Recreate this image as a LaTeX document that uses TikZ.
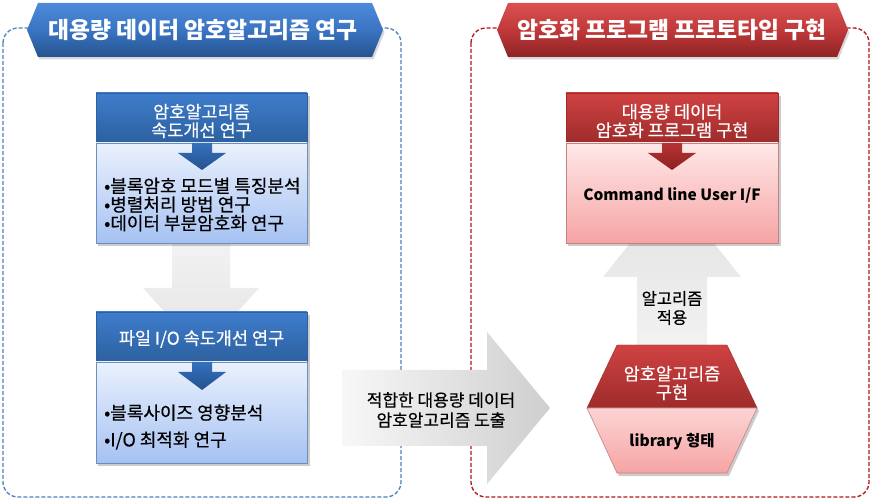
\documentclass[tikz,border=0pt]{standalone}
\usepackage{fontspec}
\setmainfont{Noto Sans CJK KR}
\newfontfamily\mg{Noto Sans CJK KR}[FakeBold=0.5]
\usetikzlibrary{shadows}
\definecolor{fblue}{HTML}{4F81BD}
\definecolor{fred}{HTML}{B01818}
\definecolor{bnb1}{HTML}{4C8BDA}
\definecolor{bnb2}{HTML}{3A74C2}
\definecolor{bnb3}{HTML}{25538F}
\definecolor{bnr1}{HTML}{D9524F}
\definecolor{bnr2}{HTML}{C0383A}
\definecolor{bnr3}{HTML}{8F2323}
\definecolor{hb1}{HTML}{3E7DCC}
\definecolor{hb2}{HTML}{2D609F}
\definecolor{lb1}{HTML}{EAF1FD}
\definecolor{lb2}{HTML}{A6C2F2}
\definecolor{hr1}{HTML}{D04242}
\definecolor{hr2}{HTML}{9E2B2B}
\definecolor{lr1}{HTML}{FFE8E8}
\definecolor{lr2}{HTML}{F6A4A4}
\definecolor{ab1}{HTML}{3570BD}
\definecolor{ab2}{HTML}{24528F}
\definecolor{ar1}{HTML}{B83232}
\definecolor{ar2}{HTML}{8C2222}
\tikzset{
  frameline/.style={line width=1.3pt, dash pattern=on 4pt off 2pt, rounded corners=15pt},
  banner/.style={drop shadow={opacity=0.3, shadow xshift=1.5pt, shadow yshift=-2.5pt}},
  hdrblue/.style={top color=hb1, bottom color=hb2, draw=hb2, line width=0.4pt, inner sep=0pt},
  bodyblue/.style={top color=lb1, bottom color=lb2, draw=hb2!70, line width=0.6pt, inner sep=0pt},
  hdrred/.style={top color=hr1, bottom color=hr2, draw=hr2, line width=0.4pt, inner sep=0pt},
  bodyred/.style={top color=lr1, bottom color=lr2, draw=hr2!60, line width=0.6pt, inner sep=0pt},
  boxshadow/.style={fill=black, opacity=0.2},
  titletext/.style={text=white, font=\fontsize{22.8}{26}\selectfont\bfseries},
  whitetext/.style={text=white, align=center, font=\fontsize{17.5}{18.5}\selectfont\mg},
  blacktext/.style={text=black, align=center, font=\fontsize{16.5}{19}\selectfont\mg},
  listtext/.style={text=black, align=left, anchor=west, inner sep=0pt},
  boldtext/.style={text=black, font=\fontsize{15.5}{18}\selectfont\bfseries},
}
\begin{document}
\begin{tikzpicture}[x=1pt,y=-1pt]
\useasboundingbox (0,0) rectangle (873,502);
\fill[white] (0,0) rectangle (873,502);

% dashed frames
\draw[frameline, fblue] (3,28) rectangle (401,497);
\draw[frameline, fred] (471,28) rectangle (869,497);

% banners
\path[banner, top color=bnb1, bottom color=bnb3, middle color=bnb2]
  (27,30) -- (38,3) -- (372,3) -- (383,30) -- (372,57) -- (38,57) -- cycle;
\node[titletext] (t1) at (203,30) {대용량 데이터 암호알고리즘 연구};
\path[banner, top color=bnr1, bottom color=bnr3, middle color=bnr2]
  (497,30) -- (508,3) -- (837,3) -- (848,30) -- (837,57) -- (508,57) -- cycle;
\node[titletext] (t2) at (672,30) {암호화 프로그램 프로토타입 구현};

% gray arrow box1 -> box2
\path[top color=gray!10, bottom color=gray!22]
  (172,243) -- (172,288) -- (143,288) -- (201,352) -- (259,288) -- (230,288) -- (230,243) -- cycle;

% box 1
\fill[boxshadow] (98,96) rectangle (310,246);
\node[hdrblue, minimum width=211, minimum height=50] (h1) at (201.5,118) {};
\node[bodyblue, minimum width=211, minimum height=100] (b1) at (201.5,193) {};
\node[whitetext] (h1t) at (201.5,121) {암호알고리즘\\속도개선 연구};
\path[top color=ab1, bottom color=ab2] (192,143) -- (192,153) -- (178,153) -- (202,170) -- (226,153) -- (212,153) -- (212,143) -- cycle;
\node[listtext, font=\fontsize{18}{18.6}\selectfont\mg] (l1) at (104,204.5) {•블록암호 모드별 특징분석\\•병렬처리 방법 연구\\•데이터 부분암호화 연구};

% box 2
\fill[boxshadow] (98,315) rectangle (310,466);
\node[hdrblue, minimum width=211, minimum height=50] (h2) at (201.5,337) {};
\node[bodyblue, minimum width=211, minimum height=101] (b2) at (201.5,412.5) {};
\node[whitetext] (h2t) at (201.5,339) {파일 I/O 속도개선 연구};
\path[top color=ab1, bottom color=ab2] (192,362) -- (192,372) -- (178,372) -- (202,390) -- (226,372) -- (212,372) -- (212,362) -- cycle;
\node[listtext, font=\fontsize{18}{27}\selectfont\mg] (l2) at (104,427) {•블록사이즈 영향분석\\•I/O 최적화 연구};

% big right arrow
\path[left color=gray!6, right color=gray!38]
  (342,370) -- (487,370) -- (487,332) -- (550,408) -- (487,484) -- (487,446) -- (342,446) -- cycle;
\node[blacktext, font=\fontsize{17}{20}\selectfont\mg] (m) at (441,410) {적합한 대용량 데이터\\암호알고리즘 도출};

% up gray arrow
\path[top color=gray!24, bottom color=gray!10]
  (637,347) -- (637,277) -- (603,277) -- (672,191) -- (741,277) -- (707,277) -- (707,347) -- cycle;
\node[blacktext] (ap) at (672,308) {알고리즘\\적용};

% right box
\fill[boxshadow] (568,96) rectangle (781,246);
\node[hdrred, minimum width=212, minimum height=50] (h3) at (672,118) {};
\node[bodyred, minimum width=212, minimum height=100] (b3) at (672,193) {};
\node[whitetext] (h3t) at (672,121) {대용량 데이터\\암호화 프로그램 구현};
\path[top color=ar1, bottom color=ar2] (662,143) -- (662,153) -- (648,153) -- (672,170) -- (696,153) -- (682,153) -- (682,143) -- cycle;
\node[boldtext] (cl) at (672,195) {Command line User I/F};

% hexagon
\fill[boxshadow] (619,348) -- (729,348) -- (759,411) -- (729,476) -- (619,476) -- (589,411) -- cycle;
\path[top color=hr1, bottom color=hr2, draw=hr2, line width=0.4pt] (617,345) -- (727,345) -- (757,408) -- (587,408) -- cycle;
\path[top color=lr1!70!lr2, bottom color=lr2, draw=hr2!60, line width=0.6pt] (587,408) -- (757,408) -- (727,473) -- (617,473) -- cycle;
\node[whitetext] (hx) at (672,383) {암호알고리즘\\구현};
\node[boldtext] (lib) at (672,442) {library 형태};
\end{tikzpicture}
\end{document}
